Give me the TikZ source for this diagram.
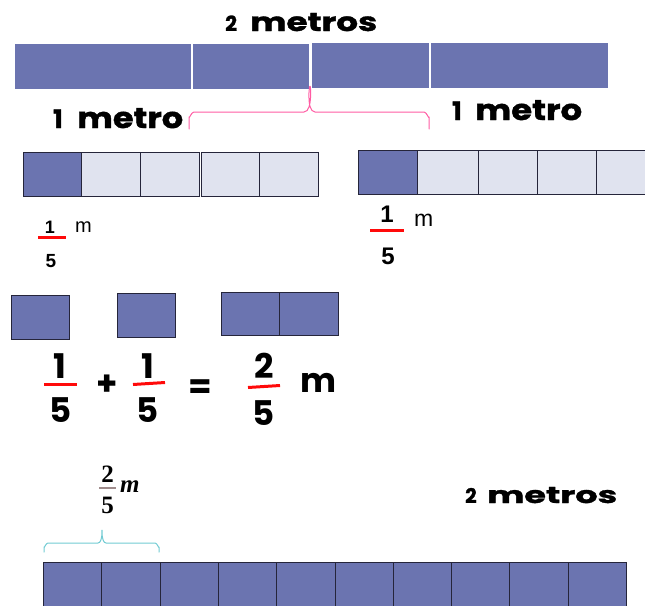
\documentclass[tikz,border=0pt]{standalone}
\usepackage{fontspec}
\usepackage{graphicx}
\newfontfamily\pop{Poppins}
\newfontfamily\popw{Poppins}[BoldFeatures={FakeBold=1.2}]
\newfontfamily\arial{Liberation Sans}
\newfontfamily\timesb{Liberation Serif}
\definecolor{barfill}{HTML}{6B74B0}
\definecolor{lightcell}{HTML}{E0E3EF}
\definecolor{bracepink}{HTML}{FF5CA3}
\definecolor{braceteal}{HTML}{72CBD3}
\definecolor{fracred}{HTML}{FF0A0A}
\definecolor{fracmauve}{HTML}{A08C8C}
\definecolor{gridgray}{HTML}{8A8A8A}
\definecolor{griddark}{HTML}{25253A}

\tikzset{
  cellbox/.style={draw=griddark, line width=1pt, fill=barfill, inner sep=0pt,
    anchor=north west, minimum width=#1, minimum height=44pt},
  cellbox/.default=58pt,
  lightbox/.style={cellbox=#1, fill=lightcell},
  lightbox/.default=58pt,
  wordtxt/.style={anchor=base west, inner sep=0pt},
  eqtxt/.style={anchor=base, inner sep=0pt, font=\fontsize{34}{40}\selectfont\pop\bfseries},
  redbar/.style={draw=fracred, line width=3pt},
  brace/.style={line width=1pt, line join=round, line cap=round},
  serifnum/.style={anchor=base, inner sep=0pt, font=\fontsize{25}{28}\selectfont\timesb\bfseries},
}
\newcommand\wordfit[3]{\resizebox{#1}{#2}{\popw\bfseries #3}}
\newcommand\numfit[2]{\resizebox{!}{#1}{\popw\bfseries #2}}

\begin{document}
\begin{tikzpicture}[x=1pt, y=-1pt]
\useasboundingbox (0,0) rectangle (645,605);
\clip (0,0) rectangle (645,605);

% ---- two metres, split into two halves ----
\fill[barfill] (15,44) rectangle (309,89);
\fill[barfill] (312,43) rectangle (608,88);
\draw[white, line width=1.2pt] (192,44) -- (192,89);
\draw[white, line width=1.2pt] (430,43) -- (430,88);
\coordinate (mid) at (310,88);

\node[wordtxt] (topnum) at (225,31) {\numfit{15.5pt}{2}};
\node[wordtxt] (topword) at (250,31) {\wordfit{127pt}{18pt}{metros}};

% pink brace under the middle of the bar
\coordinate (pl) at (189,129);
\coordinate (pr) at (429,129);
\draw[brace, bracepink] (pl) -- (189,117) to[out=-90,in=180] (194,112) -- (304,112)
  to[out=0,in=90] (mid) to[out=90,in=180] (315,112) -- (424,112)
  to[out=0,in=-90] (429,117) -- (pr);

\node[wordtxt] (lnum) at (53,128) {\numfit{18.5pt}{1}};
\node[wordtxt] (lword) at (77,128) {\wordfit{106pt}{20pt}{metro}};
\node[wordtxt] (rnum) at (452,120) {\numfit{18.5pt}{1}};
\node[wordtxt] (rword) at (475,120) {\wordfit{107pt}{20pt}{metro}};

% ---- one metre in fifths (left, grey grid) ----
\begin{scope}[every node/.append style={draw=gridgray}]
\node[cellbox=58pt] (a1) at (23,152) {};
\node[lightbox=59pt] (a2) at (81,152) {};
\node[lightbox=59pt] (a3) at (140,152) {};
\node[lightbox=58pt] (a4) at (201,152) {};
\node[lightbox=59pt] (a5) at (259,152) {};
\end{scope}

% ---- one metre in fifths (right, dark grid) ----
\node[cellbox=59pt] (b1) at (358,150) {};
\node[lightbox=61pt] (b2) at (417,150) {};
\node[lightbox=59pt] (b3) at (478,150) {};
\node[lightbox=59pt] (b4) at (537,150) {};
\node[lightbox=59pt] (b5) at (596,150) {};

% small fraction labels
\node[anchor=base, inner sep=0pt, font=\fontsize{18}{20}\selectfont\arial\bfseries] (lf1) at (50,233) {1};
\draw[redbar] (38,237.5) -- (66,237.5);
\node[anchor=base, inner sep=0pt, font=\fontsize{19}{20}\selectfont\arial\bfseries] (lf5) at (51,267) {5};
\node[anchor=base west, inner sep=0pt, font=\fontsize{20}{22}\selectfont\arial] (lfm) at (75,232) {m};

\node[anchor=base, inner sep=0pt, font=\fontsize{24}{26}\selectfont\arial\bfseries] (rf1) at (387,222) {1};
\draw[redbar] (370,230.5) -- (404,230.5);
\node[anchor=base, inner sep=0pt, font=\fontsize{24}{26}\selectfont\arial\bfseries] (rf5) at (388,264) {5};
\node[anchor=base west, inner sep=0pt, font=\fontsize{23}{26}\selectfont\arial] (rfm) at (414,226) {m};

% ---- fifth plus fifth ----
\node[cellbox=58pt] (s1) at (11,295) {};
\node[cellbox=58pt] (s2) at (117,293) {};
\node[cellbox=58pt, minimum height=43pt] (s3) at (221,292) {};
\node[cellbox=59pt, minimum height=43pt] (s4) at (279,292) {};

\node[eqtxt] (e1) at (60,378) {1};
\draw[redbar] (44,384) -- (77,384);
\node[eqtxt] (e5) at (61,422) {5};
\node[eqtxt] (plus) at (107,395) {+};
\node[eqtxt] (f1) at (148,378) {1};
\draw[redbar] (133,384.5) -- (165,382.5);
\node[eqtxt] (f5) at (148,422) {5};
\node[eqtxt] (eq) at (200,398) {=};
\node[eqtxt] (g2) at (264,378) {2};
\draw[redbar] (248,387.5) -- (280,385.5);
\node[eqtxt] (g5) at (264,425) {5};
\node[eqtxt, anchor=base west] (gm) at (300,392) {m};

% ---- two metres in tenths ----
\node[serifnum] (h2) at (107.5,482) {2};
\draw[fracmauve, line width=1.4pt] (99,488) -- (116,488);
\node[serifnum] (h5) at (107.5,513) {5};
\node[anchor=base west, inner sep=0pt, font=\fontsize{25}{28}\selectfont\timesb\bfseries\itshape] (hm) at (120,492) {m};

\coordinate (tl) at (44,552);
\coordinate (tr) at (159,552);
\coordinate (tm) at (102,531);
\draw[brace, braceteal] (tl) -- (44,547) to[out=-90,in=180] (48,543) -- (98,543)
  to[out=0,in=90] (tm) to[out=90,in=180] (106,543) -- (155,543)
  to[out=0,in=-90] (159,547) -- (tr);

\node[wordtxt] (bnum) at (465,503) {\numfit{15pt}{2}};
\node[wordtxt] (bword) at (487,503) {\wordfit{130pt}{16pt}{metros}};

\foreach \i in {0,...,9} {
  \node[cellbox=58.3pt, minimum height=50pt] (t\i) at ({43+58.3*\i},562) {};
}
\end{tikzpicture}
\end{document}
